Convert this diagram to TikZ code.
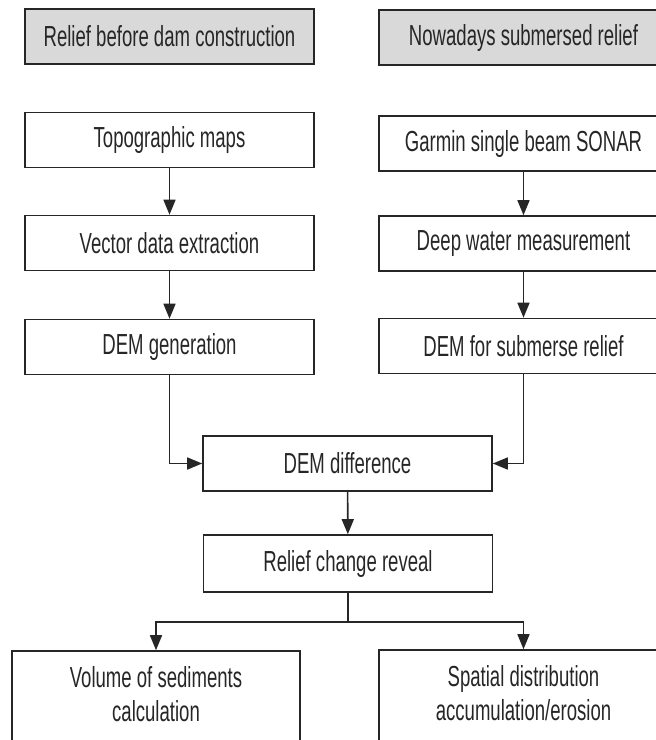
\documentclass[tikz,border=0pt]{standalone}
\usepackage{graphicx}
\usepackage{fontspec}
\setmainfont{Liberation Sans}
\usetikzlibrary{arrows.meta}

\definecolor{boxgray}{RGB}{217,217,217}
\definecolor{ink}{RGB}{38,38,38}
\newcommand{\squeezed}[1]{\scalebox{0.64}[1]{#1}}

\begin{document}
\begin{tikzpicture}[
        x=1pt, y=-1pt,
        box/.style={draw=ink,line width=1.6pt,minimum width=289pt,minimum height=55pt,
            inner sep=0pt,text=ink,font=\fontsize{29}{34}\selectfont},
        head/.style={box,fill=boxgray},
        link/.style={draw=ink,line width=1.6pt},
        flow/.style={link,-{Triangle[length=15pt,width=12pt]}}
    ]
        \useasboundingbox (0,0) rectangle (656,740);
        \clip (0,0) rectangle (656,740);

        \node [head] (before) at (169.5,36.5) {\squeezed{Relief before dam construction}};
        \node [head] (nowadays) at (523.5,37.5) {\squeezed{Nowadays submersed relief}};

        \node [box] (topo) at (169.5,140) {\squeezed{Topographic maps}};
        \node [box] (sonar) at (523.5,143.5) {\squeezed{Garmin single beam SONAR}};
        \node [box] (vector) at (169.5,243) {\squeezed{Vector data extraction}};
        \node [box] (deep) at (523.5,243.5) {\squeezed{Deep water measurement}};
        \node [box] (demgen) at (169.5,347) {\squeezed{DEM generation}};
        \node [box] (demsub) at (523.5,346) {\squeezed{DEM for submerse relief}};

        \node [box] (demdiff) at (347.5,463.5) {\squeezed{DEM difference}};
        \node [box,minimum height=57pt] (reveal) at (348,563.5) {\squeezed{Relief change reveal}};

        \node [box,minimum width=288pt,minimum height=94pt] (volume) at (156,698)
            {\squeezed{\begin{tabular}{@{}c@{}}Volume of sediments\\calculation\end{tabular}}};
        \node [box,minimum height=94pt] (spatial) at (523.5,697)
            {\squeezed{\begin{tabular}{@{}c@{}}Spatial distribution\\accumulation/erosion\end{tabular}}};

        \draw [flow] (topo) -- (vector);
        \draw [flow] (vector) -- (demgen);
        \draw [flow] (sonar) -- (deep);
        \draw [flow] (deep) -- (demsub);

        \draw [flow] (demgen.south) |- (demdiff.west);
        \draw [flow] (demsub.south) |- (demdiff.east);
        \draw [flow] (demdiff) -- (reveal);

        \coordinate (split) at (348,622);
        \draw [link] (reveal) -- (split);
        \draw [flow] (split) -| (volume);
        \draw [flow] (split) -| (spatial);
    \end{tikzpicture}
\end{document}
